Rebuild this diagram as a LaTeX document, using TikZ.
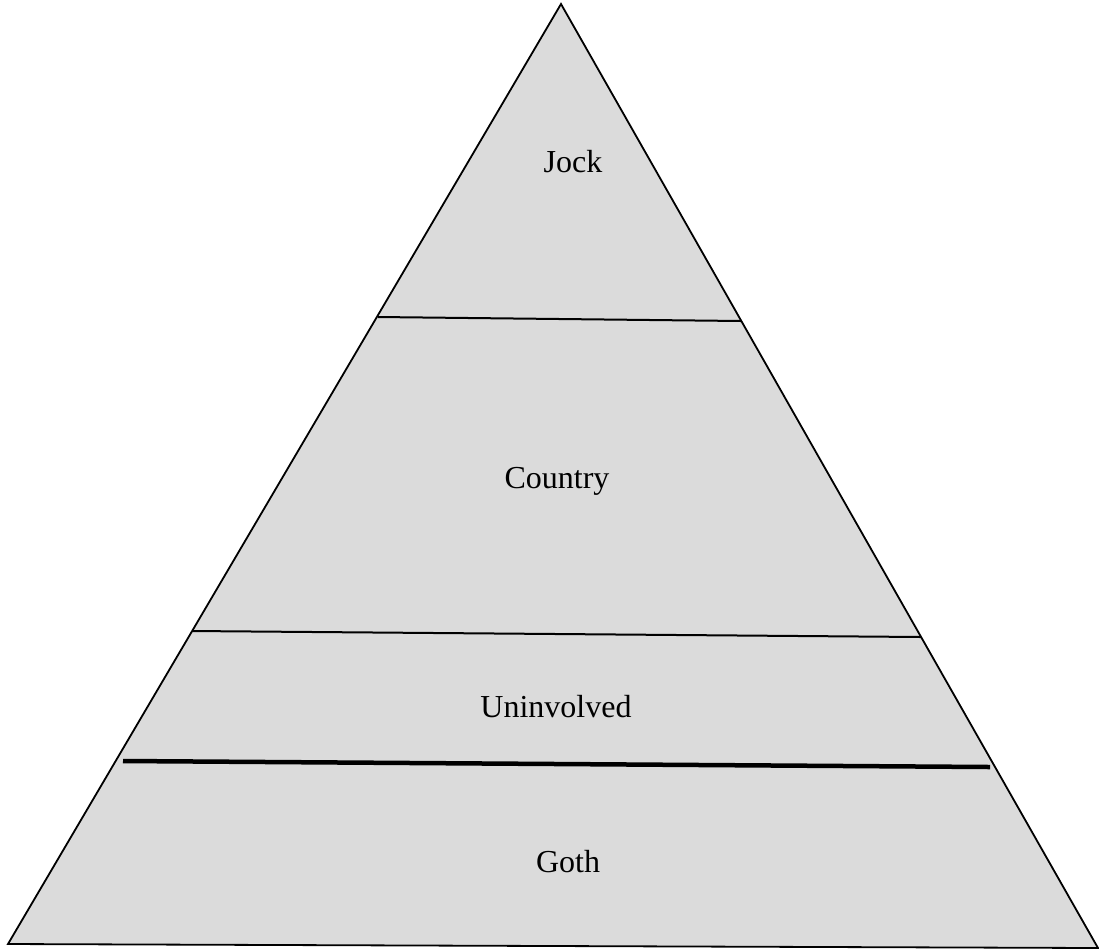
\documentclass[tikz,border=0pt]{standalone}
\usepackage{fontspec}
\setmainfont{Liberation Serif}
\begin{document}
\begin{tikzpicture}[x=1pt,y=-1pt,
  lab/.style={font=\fontsize{32}{36}\selectfont, inner sep=0pt, anchor=base},
  tier/.style={line width=2pt, black},
  tierthick/.style={line width=4.5pt, black}]
\useasboundingbox (0,0) rectangle (1099,951);
\coordinate (apex) at (561,4);
\coordinate (bl) at (8,944);
\coordinate (br) at (1098,948);
\fill[black!14] (apex) -- (bl) -- (br) -- cycle;
\draw[line width=1.8pt, line join=miter] (apex) -- (bl) -- (br) -- cycle;
\coordinate (l1a) at (378,317);
\coordinate (l1b) at (741,321);
\coordinate (l2a) at (192,631);
\coordinate (l2b) at (921,637);
\coordinate (l3a) at (123,761);
\coordinate (l3b) at (990,767);
\draw[tier] (l1a) -- (l1b);
\draw[tier] (l2a) -- (l2b);
\draw[tierthick] (l3a) -- (l3b);
\node[lab] (jock) at (573,172) {Jock};
\node[lab] (country) at (557,488) {Country};
\node[lab] (uninv) at (556,717) {Uninvolved};
\node[lab] (goth) at (568,872) {Goth};
\end{tikzpicture}
\end{document}
